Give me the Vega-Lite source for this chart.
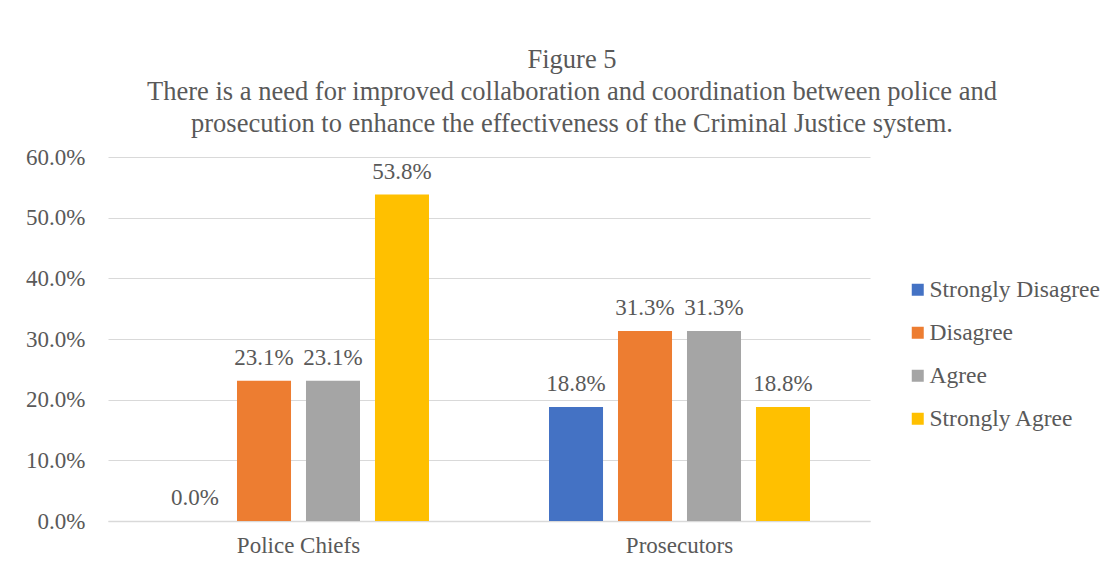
{
  "$schema": "https://vega.github.io/schema/vega-lite/v6.json",
  "width": 762,
  "height": 364,
  "autosize": {"type": "none"},
  "padding": {"left": 108, "top": 157, "right": 245, "bottom": 50},
  "background": "white",
  "title": {
    "text": ["Figure 5", "There is a need for improved collaboration and coordination between police and", "prosecution to enhance the effectiveness of the Criminal Justice system."],
    "font": "Liberation Serif",
    "fontSize": 26.5,
    "fontWeight": "normal",
    "color": "#595959",
    "lineHeight": 32,
    "anchor": "middle",
    "dx": 83,
    "offset": 9
  },
  "data": {
    "values": [
      {"group": "Police Chiefs", "response": "Strongly Disagree", "value": 0.0},
      {"group": "Police Chiefs", "response": "Disagree", "value": 0.231},
      {"group": "Police Chiefs", "response": "Agree", "value": 0.231},
      {"group": "Police Chiefs", "response": "Strongly Agree", "value": 0.538},
      {"group": "Prosecutors", "response": "Strongly Disagree", "value": 0.188},
      {"group": "Prosecutors", "response": "Disagree", "value": 0.313},
      {"group": "Prosecutors", "response": "Agree", "value": 0.313},
      {"group": "Prosecutors", "response": "Strongly Agree", "value": 0.188}
    ]
  },
  "encoding": {
    "x": {
      "field": "group", "type": "nominal", "sort": null,
      "scale": {"paddingInner": 0.315, "paddingOuter": 0.1575},
      "axis": {"title": null, "labelAngle": 0, "ticks": false, "labelPadding": 13, "domainColor": "#d9d9d9", "domainWidth": 1.5}
    },
    "xOffset": {
      "field": "response", "type": "nominal",
      "sort": ["Strongly Disagree", "Disagree", "Agree", "Strongly Agree"],
      "scale": {"paddingInner": 0.217, "paddingOuter": 0}
    },
    "y": {
      "field": "value", "type": "quantitative",
      "scale": {"domain": [0, 0.6]},
      "axis": {"title": null, "format": ".1%", "values": [0, 0.1, 0.2, 0.3, 0.4, 0.5, 0.6], "domain": false, "ticks": false, "labelPadding": 23, "gridColor": "#d9d9d9", "gridWidth": 1.2}
    }
  },
  "layer": [
    {
      "mark": {"type": "bar"},
      "encoding": {
        "color": {
          "field": "response", "type": "nominal",
          "sort": ["Strongly Disagree", "Disagree", "Agree", "Strongly Agree"],
          "scale": {"domain": ["Strongly Disagree", "Disagree", "Agree", "Strongly Agree"], "range": ["#4472C4", "#ED7D31", "#A5A5A5", "#FFC000"]},
          "legend": {
            "title": null, "orient": "none", "legendX": 798, "legendY": 121,
            "symbolType": "square", "symbolSize": 144, "symbolStrokeWidth": 0,
            "labelFont": "Liberation Serif", "labelFontSize": 23.5, "labelColor": "#595959",
            "labelLimit": 400, "rowPadding": 18, "labelOffset": 0
          }
        }
      }
    },
    {
      "mark": {"type": "text", "baseline": "bottom", "dy": -11, "font": "Liberation Serif", "fontSize": 23, "color": "#595959"},
      "encoding": {
        "text": {"field": "value", "type": "quantitative", "format": ".1%"}
      }
    }
  ],
  "config": {
    "view": {"stroke": null},
    "axis": {"labelFont": "Liberation Serif", "labelFontSize": 23, "labelColor": "#595959"}
  }
}
